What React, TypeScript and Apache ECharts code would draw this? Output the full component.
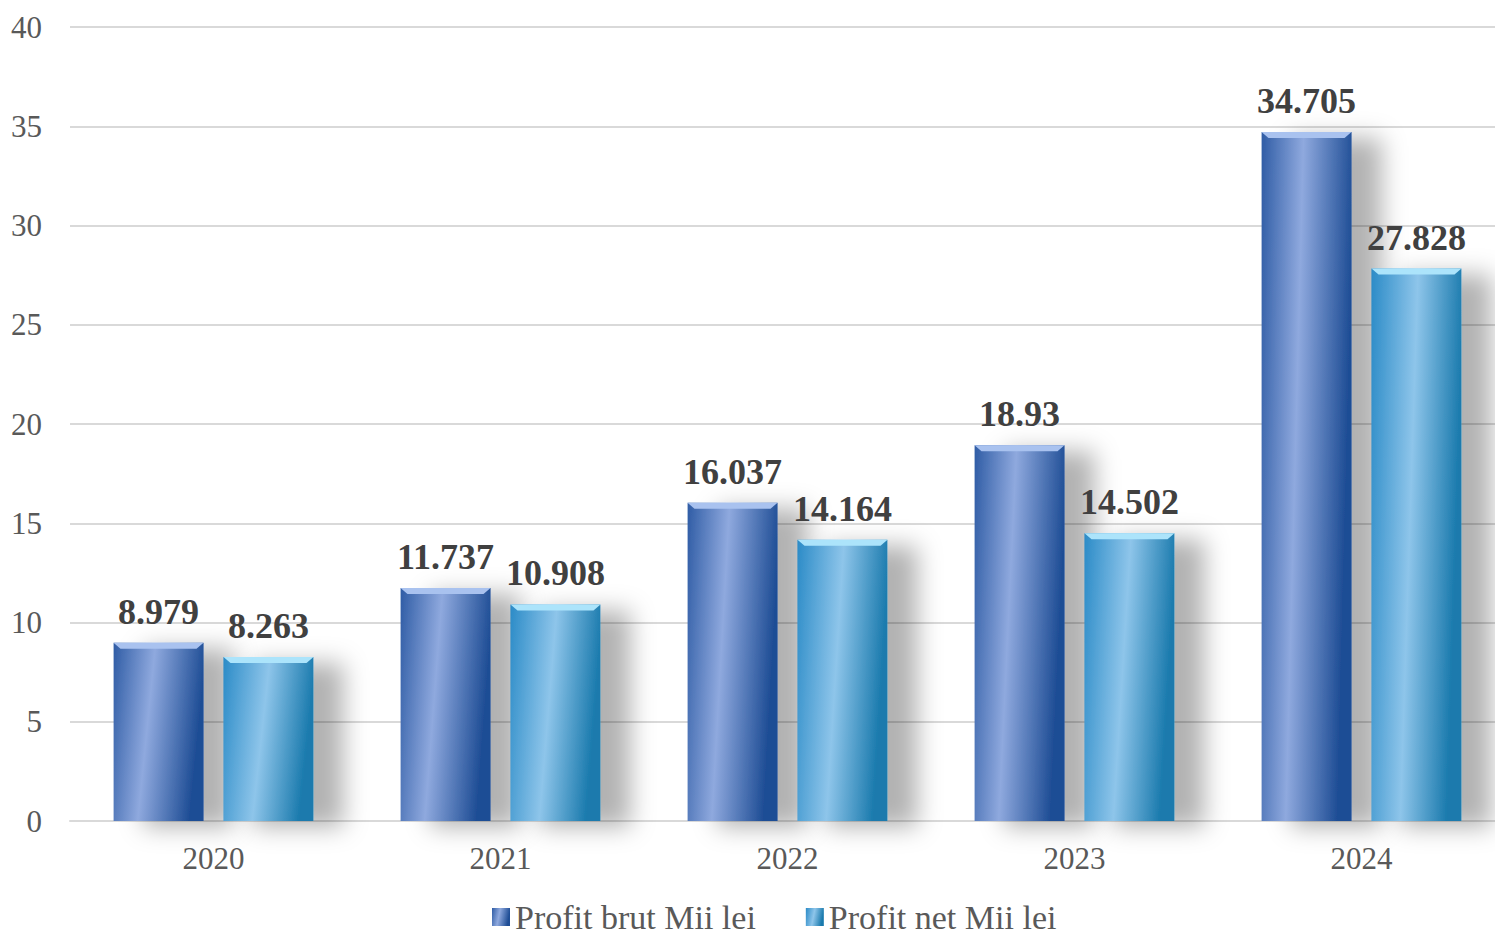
import React, { useEffect, useRef } from "react";
import * as echarts from "echarts";

const categories = ["2020", "2021", "2022", "2023", "2024"];
const profitBrut = [8.979, 11.737, 16.037, 18.93, 34.705];
const profitNet = [8.263, 10.908, 14.164, 14.502, 27.828];
const seriesNames = ["Profit brut Mii lei", "Profit net Mii lei"];

const FONT = "'Liberation Serif', 'DejaVu Serif', serif";

const grad1 = new echarts.graphic.LinearGradient(0, 0, 1, 0.2, [
  { offset: 0, color: "#2f5ca5" },
  { offset: 0.45, color: "#8fa9de" },
  { offset: 1, color: "#1e4d95" },
]);
const grad2 = new echarts.graphic.LinearGradient(0, 0, 1, 0.2, [
  { offset: 0, color: "#2b8bc7" },
  { offset: 0.5, color: "#8ec5ea" },
  { offset: 1, color: "#1a7aad" },
]);

function bevel(offsetPx: number, fill: string) {
  return (params: any, api: any) => {
    const idx = api.value(0);
    const v = api.value(1);
    const p = api.coord([idx, v]);
    const w = 90;
    const x = p[0] + offsetPx - w / 2;
    const y = p[1];
    return {
      type: "polygon",
      shape: {
        points: [
          [x, y],
          [x + w, y],
          [x + w - 7, y + 6],
          [x + 7, y + 6],
        ],
      },
      style: { fill },
    };
  };
}

export default function App() {
  const ref = useRef<HTMLDivElement>(null);
  useEffect(() => {
    if (!ref.current) return;
    const chart = echarts.init(ref.current, null, { renderer: "svg" });
    const labelCfg = {
      show: true,
      position: "top",
      distance: 13,
      fontFamily: FONT,
      fontWeight: "bold",
      fontSize: 36,
      color: "#404040",
    };
    const shadow = {
      shadowColor: "rgba(0,0,0,0.3)",
      shadowBlur: 24,
      shadowOffsetX: 30,
      shadowOffsetY: 6,
    };
    chart.setOption({
      animation: false,
      backgroundColor: "#ffffff",
      grid: { left: 70, top: 27, bottom: 113, width: 1435 },
      legend: {
        bottom: -5,
        left: 487,
        itemWidth: 18,
        itemHeight: 18,
        itemGap: 50,
        icon: "rect",
        textStyle: { fontFamily: FONT, fontSize: 34, color: "#595959" },
        data: seriesNames,
      },
      xAxis: {
        type: "category",
        data: categories,
        axisLine: { lineStyle: { color: "#d9d9d9", width: 2 } },
        axisTick: { show: false },
        axisLabel: { fontFamily: FONT, fontSize: 31, color: "#595959", margin: 22 },
      },
      yAxis: {
        type: "value",
        min: 0,
        max: 40,
        interval: 5,
        axisLine: { show: false },
        axisTick: { show: false },
        splitLine: { lineStyle: { color: "#d9d9d9", width: 2 } },
        axisLabel: { fontFamily: FONT, fontSize: 31, color: "#595959", margin: 28 },
      },
      series: [
        {
          name: seriesNames[0],
          type: "bar",
          data: profitBrut,
          barWidth: 90,
          barGap: "22%",
          itemStyle: { color: grad1, ...shadow },
          label: labelCfg,
          z: 2,
        },
        {
          name: seriesNames[1],
          type: "bar",
          data: profitNet,
          barWidth: 90,
          itemStyle: { color: grad2, ...shadow },
          label: labelCfg,
          z: 2,
        },
        {
          type: "custom",
          silent: true,
          z: 3,
          encode: { x: 0, y: 1 },
          data: profitBrut.map((v, i) => [i, v]),
          renderItem: bevel(-55, "#a9c2ef"),
        },
        {
          type: "custom",
          silent: true,
          z: 3,
          encode: { x: 0, y: 1 },
          data: profitNet.map((v, i) => [i, v]),
          renderItem: bevel(55, "#ace4fb"),
        },
      ],
    });
    return () => chart.dispose();
  }, []);
  return (
    <div
      style={{
        position: "fixed",
        left: 0,
        top: 0,
        width: 1495,
        height: 934,
        overflow: "hidden",
        background: "#fff",
      }}
    >
      <div ref={ref} style={{ width: 1530, height: 934 }} />
    </div>
  );
}
